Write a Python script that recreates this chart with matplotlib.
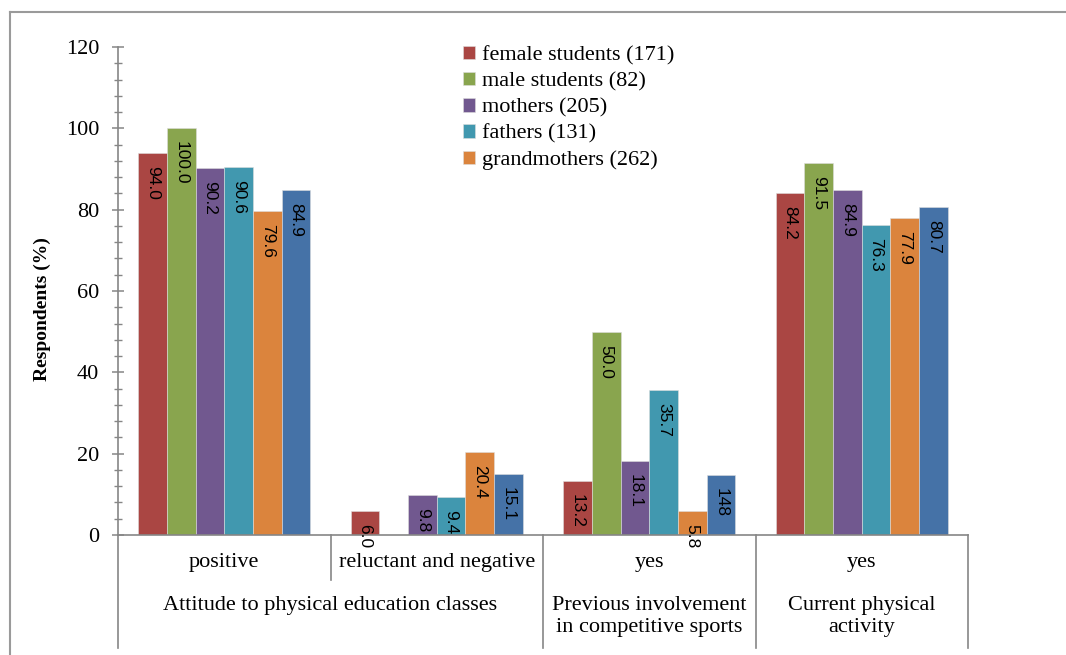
import matplotlib.pyplot as plt
from matplotlib.ticker import MultipleLocator
import matplotlib.transforms as mtransforms

# categories (bottom level) and the grouping underneath
categories = ['positive', 'reluctant and negative', 'yes', 'yes']
groups = ['Attitude to physical education classes',
          'Previous involvement\nin competitive sports',
          'Current physical\nactivity']
group_centers = [0.5, 2, 3]

series_names = ['female students (171)', 'male students (82)', 'mothers (205)',
                'fathers (131)', 'grandmothers (262)', 'grandfathers']
female = [94.0, 6.0, 13.2, 84.2]
male = [100.0, 0, 50.0, 91.5]
mothers = [90.2, 9.8, 18.1, 84.9]
fathers = [90.6, 9.4, 35.7, 76.3]
grandmothers = [79.6, 20.4, 5.8, 77.9]
grandfathers = [84.9, 15.1, 14.8, 80.7]
labels_txt = [
    ['94.0', '6.0', '13.2', '84.2'],
    ['100.0', '', '50.0', '91.5'],
    ['90.2', '9.8', '18.1', '84.9'],
    ['90.6', '9.4', '35.7', '76.3'],
    ['79.6', '20.4', '5.8', '77.9'],
    ['84.9', '15.1', '148', '80.7'],
]
colors = ['#AA4643', '#89A54E', '#71588F', '#4198AF', '#DB843D', '#4572A7']

all_series = [female, male, mothers, fathers, grandmothers, grandfathers]

plt.rcParams['font.family'] = ['Liberation Serif', 'DejaVu Serif']

fig = plt.figure(figsize=(10.66, 6.55), dpi=100)
ax = fig.add_axes([118 / 1066, 1 - 535 / 655, 850 / 1066, 488 / 655])

# outer frame (only top and left edges are visible in the crop)
fig.add_artist(plt.Line2D([10 / 1066, 10 / 1066], [0, 1 - 12 / 655],
                          transform=fig.transFigure, color='#9a9a9a', lw=1.5))
fig.add_artist(plt.Line2D([10 / 1066, 1], [1 - 12 / 655, 1 - 12 / 655],
                          transform=fig.transFigure, color='#9a9a9a', lw=1.5))

n = len(all_series)
w = 0.135
x = range(len(categories))
for i, vals in enumerate(all_series):
    pos = [xi + (i - (n - 1) / 2) * w for xi in x]
    lbl = series_names[i] if i < 5 else '_nolegend_'
    ax.bar(pos, vals, width=w, color=colors[i], label=lbl,
           edgecolor='#dddddd', linewidth=0.4)
    for p, v, t in zip(pos, vals, labels_txt[i]):
        if t:
            ax.text(p, v - 3.2, t, rotation=270, ha='center', va='top',
                    fontsize=12.5, family='Liberation Sans')

ax.set_xlim(-0.5, 3.5)
ax.set_ylim(0, 120)
ax.yaxis.set_major_locator(MultipleLocator(20))
ax.yaxis.set_minor_locator(MultipleLocator(4))
ax.tick_params(axis='y', which='major', direction='inout', length=9,
               color='#868686', width=1.1, labelsize=16, pad=9)
ax.tick_params(axis='y', which='minor', direction='inout', length=6,
               color='#868686', width=1.0)
ax.set_xticks([])
for s in ['top', 'right']:
    ax.spines[s].set_visible(False)
ax.spines['left'].set_color('#868686')
ax.spines['bottom'].set_color('#868686')
ax.spines['left'].set_linewidth(1.2)
ax.spines['bottom'].set_linewidth(1.2)
ax.set_ylabel('Respondents (%)', fontsize=14, fontweight='bold')
ax.yaxis.set_label_coords(-0.079, 0.463)

# multi-level category axis below the plot
trans = mtransforms.blended_transform_factory(ax.transData, ax.transAxes)
for xs, ybot in [(-0.5, -0.2316), (0.5, -0.092), (1.5, -0.2316),
                 (2.5, -0.2316), (3.5, -0.2316)]:
    ax.plot([xs, xs], [0, ybot], transform=trans, color='#868686',
            lw=1.2, clip_on=False)
for xi, c in zip(x, categories):
    ax.text(xi, -0.057, c, transform=trans, ha='center', va='center',
            fontsize=16)
for gc, g in zip(group_centers, groups):
    ax.text(gc, -0.125, g, transform=trans, ha='center', va='top',
            fontsize=16, linespacing=1.2)

ax.legend(loc='upper left', bbox_to_anchor=(0.39, 1.03), frameon=False,
          fontsize=16, handlelength=0.55, handleheight=0.55, handletextpad=0.3,
          labelspacing=0.3, borderaxespad=0.2)

fig.savefig('out.png', dpi=100)
